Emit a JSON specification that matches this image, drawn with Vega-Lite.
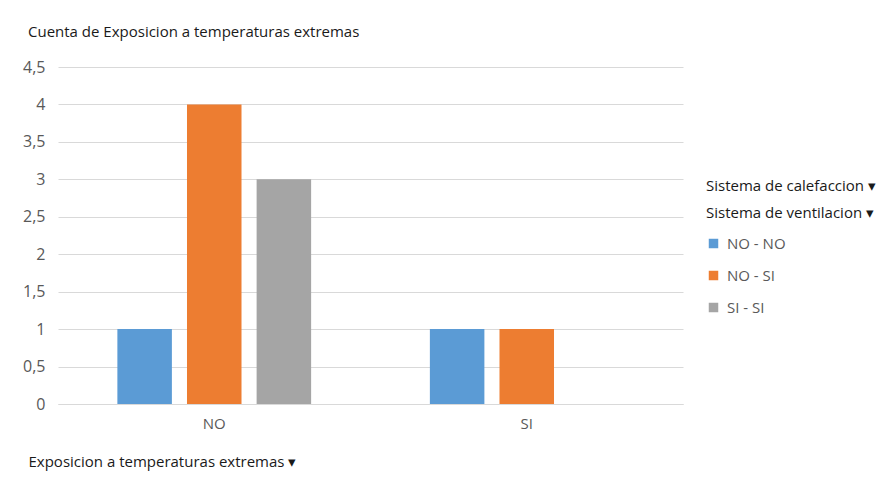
{
  "$schema": "https://vega.github.io/schema/vega-lite/v6.json",
  "autosize": {"type": "none"},
  "width": 625,
  "height": 337,
  "padding": {"left": 58, "top": 67, "right": 210, "bottom": 74},
  "background": "white",
  "config": {
    "locale": {"number": {"decimal": ",", "thousands": ".", "grouping": [3], "currency": ["", " €"]}},
    "font": "Open Sans",
    "view": {"stroke": null}
  },
  "title": {
    "text": "Cuenta de Exposicion a temperaturas extremas",
    "anchor": "start",
    "frame": "group",
    "dx": -30,
    "offset": 19,
    "fontSize": 15,
    "fontWeight": "normal",
    "color": "#1a1a1a",
    "font": "Open Sans"
  },
  "data": {
    "values": [
      {"exposicion": "NO", "sistema": "NO - NO", "cuenta": 1},
      {"exposicion": "NO", "sistema": "NO - SI", "cuenta": 4},
      {"exposicion": "NO", "sistema": "SI - SI", "cuenta": 3},
      {"exposicion": "SI", "sistema": "NO - NO", "cuenta": 1},
      {"exposicion": "SI", "sistema": "NO - SI", "cuenta": 1}
    ]
  },
  "mark": {"type": "bar"},
  "encoding": {
    "x": {
      "field": "exposicion",
      "type": "nominal",
      "scale": {"paddingInner": 0.38, "paddingOuter": 0.19},
      "axis": {
        "title": "Exposicion a temperaturas extremas  ▾",
        "titleAnchor": "start",
        "titleAlign": "left",
        "titleX": -30,
        "titleY": 57,
        "titleBaseline": "middle",
        "titleFontSize": 15,
        "titleFontWeight": "normal",
        "titleColor": "#1a1a1a",
        "labelAngle": 0,
        "labelFontSize": 15,
        "labelColor": "#595959",
        "labelPadding": 12,
        "ticks": false,
        "domainColor": "#d9d9d9",
        "domainWidth": 1
      }
    },
    "xOffset": {
      "field": "sistema",
      "type": "nominal",
      "sort": ["NO - NO", "NO - SI", "SI - SI"],
      "scale": {"domain": ["NO - NO", "NO - SI", "SI - SI"], "paddingInner": 0.217, "paddingOuter": 0}
    },
    "y": {
      "field": "cuenta",
      "type": "quantitative",
      "scale": {"domain": [0, 4.5]},
      "axis": {
        "title": null,
        "values": [0, 0.5, 1, 1.5, 2, 2.5, 3, 3.5, 4, 4.5],
        "format": ".1~f",
        "labelFontSize": 16,
        "labelColor": "#595959",
        "labelPadding": 13,
        "ticks": false,
        "domain": false,
        "gridColor": "#d9d9d9",
        "gridWidth": 1
      }
    },
    "color": {
      "field": "sistema",
      "type": "nominal",
      "scale": {"domain": ["NO - NO", "NO - SI", "SI - SI"], "range": ["#5B9BD5", "#ED7D31", "#A5A5A5"]},
      "legend": {
        "title": ["Sistema de calefaccion  ▾", "Sistema de ventilacion  ▾"],
        "orient": "none",
        "legendX": 648,
        "legendY": 112,
        "titleFontSize": 15,
        "titleFontWeight": "normal",
        "titleColor": "#1a1a1a",
        "titleLineHeight": 27,
        "titlePadding": 15,
        "labelFontSize": 15,
        "labelColor": "#595959",
        "symbolType": "square",
        "symbolSize": 90,
        "symbolStrokeWidth": 0,
        "rowPadding": 16,
        "labelOffset": 6,
        "offset": 0
      }
    }
  }
}
